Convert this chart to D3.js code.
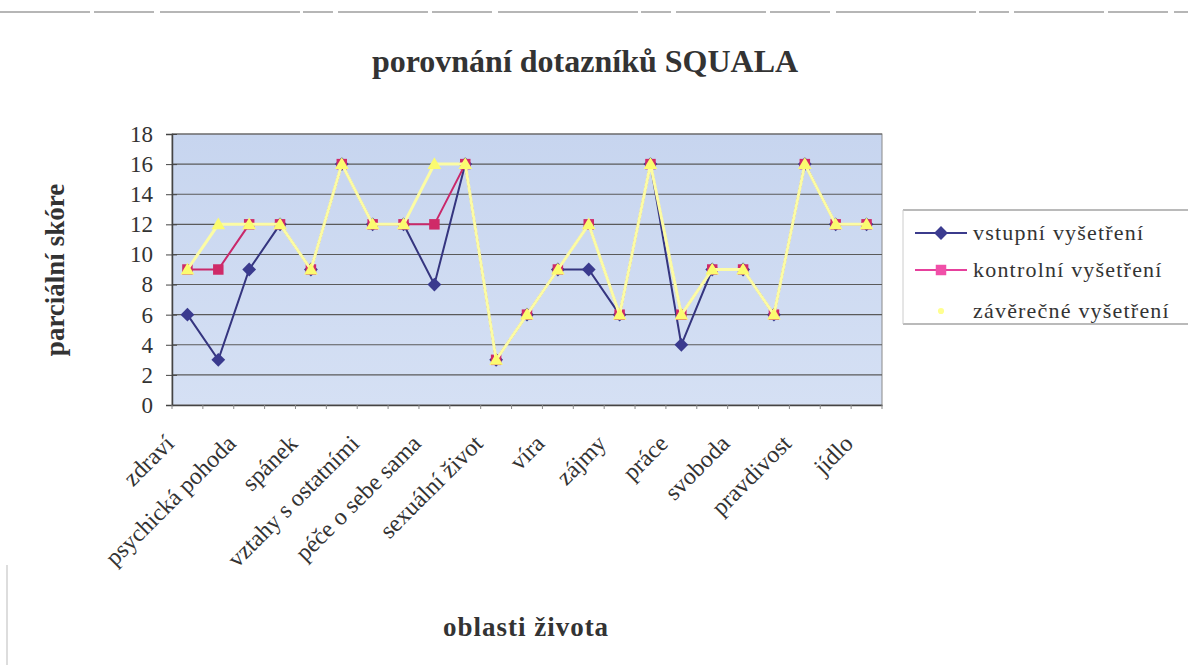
<!DOCTYPE html>
<html>
<head>
<meta charset="utf-8">
<script src="https://cdn.jsdelivr.net/npm/d3@7"></script>
<style>
  body { margin: 0; background: #fff; }
  svg text { font-family: "Liberation Serif", "Times New Roman", serif; fill: #333; }
</style>
</head>
<body>
<div id="chart"></div>
<script>
// 23 category slots, Excel shows only every second label
var categories = ["zdraví", "", "psychická pohoda", "", "spánek", "", "vztahy s ostatními", "",
    "péče o sebe sama", "", "sexuální život", "", "víra", "", "zájmy", "", "práce", "",
    "svoboda", "", "pravdivost", "", "jídlo"];

var vstupni   = [6, 3, 9, 12, 9, 16, 12, 12, 8, 16, 3, 6, 9, 9, 6, 16, 4, 9, 9, 6, 16, 12, 12];
var kontrolni = [9, 9, 12, 12, 9, 16, 12, 12, 12, 16, 3, 6, 9, 12, 6, 16, 6, 9, 9, 6, 16, 12, 12];
var zaverecne = [9, 12, 12, 12, 9, 16, 12, 12, 16, 16, 3, 6, 9, 12, 6, 16, 6, 9, 9, 6, 16, 12, 12];

var seriesNames = ["vstupní vyšetření", "kontrolní vyšetření", "závěrečné vyšetření"];
var yTicks = [0, 2, 4, 6, 8, 10, 12, 14, 16, 18];

var width = 1188, height = 665;
var plot = { left: 172, right: 882, top: 134, bottom: 405 };

var svg = d3.select("#chart").append("svg")
    .attr("width", width)
    .attr("height", height);

// page border lines from the scan
svg.append("line")
    .attr("x1", 0).attr("x2", width).attr("y1", 12).attr("y2", 12)
    .attr("stroke", "#6f6f6f").attr("stroke-width", 1.2)
    .attr("stroke-dasharray", "90,4,60,6,140,3,30,5");
svg.append("line")
    .attr("x1", 7).attr("x2", 7).attr("y1", 565).attr("y2", 665)
    .attr("stroke", "#bbb").attr("stroke-width", 1);

var x = d3.scalePoint()
    .domain(d3.range(categories.length))
    .range([plot.left, plot.right])
    .padding(0.5);

var y = d3.scaleLinear()
    .domain([0, 18])
    .range([plot.bottom, plot.top]);

// plot area background
var defs = svg.append("defs");
var grad = defs.append("linearGradient")
    .attr("id", "bg").attr("x1", "0%").attr("y1", "0%").attr("x2", "0%").attr("y2", "100%");
grad.append("stop").attr("offset", "0%").attr("stop-color", "#c7d5ef");
grad.append("stop").attr("offset", "100%").attr("stop-color", "#d5e0f4");

svg.append("rect")
    .attr("x", plot.left).attr("y", plot.top)
    .attr("width", plot.right - plot.left).attr("height", plot.bottom - plot.top)
    .attr("fill", "url(#bg)")
    .attr("stroke", "#8a8a8a").attr("stroke-width", 1);

// gridlines
svg.append("g")
    .selectAll("line")
    .data(yTicks.filter(function (d) { return d > 0; }))
    .enter().append("line")
    .attr("x1", plot.left).attr("x2", plot.right)
    .attr("y1", function (d) { return y(d); })
    .attr("y2", function (d) { return y(d); })
    .attr("stroke", "#5a5a5a").attr("stroke-width", 1.1);

// y axis
var yAxis = d3.axisLeft(y).tickValues(yTicks).tickSize(6).tickPadding(13);
var gy = svg.append("g")
    .attr("transform", "translate(" + plot.left + ",0)")
    .call(yAxis);
gy.select(".domain").attr("stroke", "#444").attr("stroke-width", 1.5);
gy.selectAll(".tick line").attr("stroke", "#444").attr("x2", -6).attr("x1", 5);
gy.selectAll(".tick text")
    .style("font-size", "23px")
    .style("font-family", "Liberation Serif, serif")
    .attr("fill", "#333");

// x axis
var xAxis = d3.axisBottom(x).tickSize(0).tickFormat("");
var gx = svg.append("g")
    .attr("transform", "translate(0," + plot.bottom + ")")
    .call(xAxis);
gx.select(".domain").attr("stroke", "#444").attr("stroke-width", 1.5);

// small tick marks between categories
var step = x.step();
gx.selectAll("line.cat")
    .data(d3.range(categories.length + 1))
    .enter().append("line")
    .attr("class", "cat")
    .attr("x1", function (d) { return plot.left + d * step; })
    .attr("x2", function (d) { return plot.left + d * step; })
    .attr("y1", 0).attr("y2", 4)
    .attr("stroke", "#888");

// category labels
svg.append("g")
    .selectAll("text")
    .data(categories.map(function (c, i) { return { c: c, i: i }; })
        .filter(function (d) { return d.c !== ""; }))
    .enter().append("text")
    .attr("transform", function (d) {
        return "translate(" + (x(d.i) - 12) + "," + (plot.bottom + 40) + ") rotate(-45)";
    })
    .attr("text-anchor", "end")
    .style("font-size", "24px")
    .text(function (d) { return d.c; });

// series
var colors = ["#35357f", "#c9286a", "#fcfca4"];
var markerColors = ["#3a3a8e", "#cf2a68", "#fbfb70"];
var data = [vstupni, kontrolni, zaverecne];
var widths = [2, 2, 3];

var line = d3.line()
    .x(function (d, i) { return x(i); })
    .y(function (d) { return y(d); });

var square = d3.symbol().type(d3.symbolSquare).size(110);
var diamond = d3.symbol().type(d3.symbolSquare).size(95);
var triangle = d3.symbol().type(d3.symbolTriangle).size(80);
var shapes = [diamond, square, triangle];
var rot = [45, 0, 0];

data.forEach(function (vals, s) {
    svg.append("path")
        .datum(vals)
        .attr("d", line)
        .attr("fill", "none")
        .attr("stroke", colors[s])
        .attr("stroke-width", widths[s]);
    svg.append("g")
        .selectAll("path")
        .data(vals)
        .enter().append("path")
        .attr("transform", function (d, i) {
            return "translate(" + x(i) + "," + (y(d) + (s === 2 ? 1 : 0)) + ") rotate(" + rot[s] + ")";
        })
        .attr("d", shapes[s])
        .attr("fill", markerColors[s]);
});

// titles
svg.append("text")
    .attr("x", 585).attr("y", 72)
    .attr("text-anchor", "middle")
    .style("font-size", "32px").style("font-weight", "bold")
    .text("porovnání dotazníků SQUALA");

svg.append("text")
    .attr("x", 526).attr("y", 636)
    .attr("text-anchor", "middle")
    .style("font-size", "27px").style("font-weight", "bold")
    .attr("letter-spacing", "1")
    .text("oblasti života");

svg.append("text")
    .attr("transform", "translate(64,270) rotate(-90)")
    .attr("text-anchor", "middle")
    .style("font-size", "27px").style("font-weight", "bold")
    .text("parciální skóre");

// legend
var lg = svg.append("g").attr("transform", "translate(903,0)");
lg.append("line").attr("x1", 0).attr("x2", 300).attr("y1", 210).attr("y2", 210)
    .attr("stroke", "#777").attr("stroke-width", 1.2);
lg.append("line").attr("x1", 0).attr("x2", 300).attr("y1", 324).attr("y2", 324)
    .attr("stroke", "#777").attr("stroke-width", 1.2);
lg.append("line").attr("x1", 0).attr("x2", 0).attr("y1", 210).attr("y2", 324)
    .attr("stroke", "#ccc").attr("stroke-width", 1);

var legendY = [233, 270, 311];
var legendLine = ["#3b3b8c", "#e6409c", "none"];
var legendMarker = ["#3c3c90", "#f050a8", "#ffff90"];
seriesNames.forEach(function (name, s) {
    var row = lg.append("g").attr("transform", "translate(0," + legendY[s] + ")");
    row.append("line").attr("x1", 12).attr("x2", 64).attr("y1", 0).attr("y2", 0)
        .attr("stroke", legendLine[s]).attr("stroke-width", 2);
    row.append("path")
        .attr("transform", "translate(38,0) rotate(" + rot[s] + ")")
        .attr("d", s === 2 ? d3.symbol().type(d3.symbolCircle).size(30) : shapes[s])
        .attr("fill", legendMarker[s]);
    row.append("text")
        .attr("x", 70).attr("y", 7)
        .attr("letter-spacing", "1.2")
        .style("font-size", "22px")
        .text(name);
});
</script>
</body>
</html>
